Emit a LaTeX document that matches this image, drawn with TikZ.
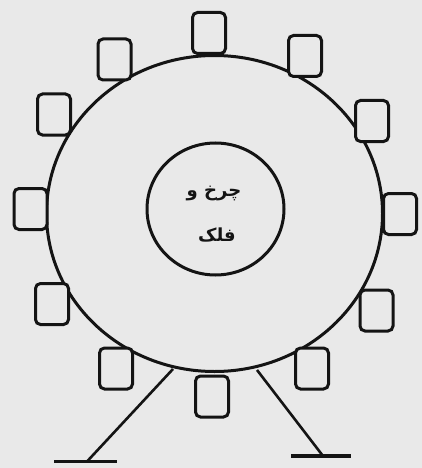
\documentclass[tikz,border=0pt]{standalone}
\usepackage{fontspec}
\usetikzlibrary{shapes.geometric}
\TeXXeTstate=1
\newfontfamily\arabicfont[Script=Arabic]{DejaVu Sans}
\definecolor{bg}{RGB}{233,233,233}
\definecolor{ink}{RGB}{20,20,20}
\begin{document}
\begin{tikzpicture}[x=1pt,y=-1pt,
  cabin/.style={draw=ink,line width=3pt,rounded corners=5pt,minimum width=33pt,minimum height=41pt,inner sep=0pt,fill=bg},
  rim/.style={draw=ink,line width=3pt,ellipse,inner sep=0pt},
  leg/.style={draw=ink,line width=2.6pt},
  ground/.style={draw=ink,line width=3.4pt},
  lbl/.style={font=\arabicfont\bfseries\fontsize{18}{20}\selectfont,text=ink,inner sep=0pt}]
\fill[bg] (0,0) rectangle (422,468);
\useasboundingbox (0,0) rectangle (422,468);
% wheel
\node[rim,minimum width=336pt,minimum height=316pt] (wheel) at (214.5,213.5) {};
\node[rim,minimum width=137pt,minimum height=132pt] (hub) at (215.5,209) {};
\node[lbl] (t1) at (214,193) {\beginR چرخ و\endR};
\node[lbl] (t2) at (217,235) {\beginR فلک\endR};
% legs
\coordinate (lt) at (173,369);
\coordinate (lf) at (87,461.5);
\coordinate (rt) at (257,370);
\coordinate (rf) at (323,456);
\coordinate (lg1) at (54,461.5);
\coordinate (lg2) at (117,461.5);
\coordinate (rg1) at (291,456);
\coordinate (rg2) at (351,456);
\draw[leg] (lt) -- (lf);
\draw[leg] (rt) -- (rf);
\draw[ground] (lg1) -- (lg2);
\draw[ground] (rg1) -- (rg2);
% cabins
\node[cabin] (c1) at (209,33) {};
\node[cabin] (c2) at (114.5,59.5) {};
\node[cabin] (c3) at (305,56) {};
\node[cabin] (c4) at (54,114.5) {};
\node[cabin] (c5) at (372,121) {};
\node[cabin] (c6) at (30.5,209) {};
\node[cabin] (c7) at (400,214) {};
\node[cabin] (c8) at (52,304) {};
\node[cabin] (c9) at (376.5,310.5) {};
\node[cabin] (c10) at (116,368.5) {};
\node[cabin] (c11) at (212,396.5) {};
\node[cabin] (c12) at (312,368.5) {};
\end{tikzpicture}
\end{document}
